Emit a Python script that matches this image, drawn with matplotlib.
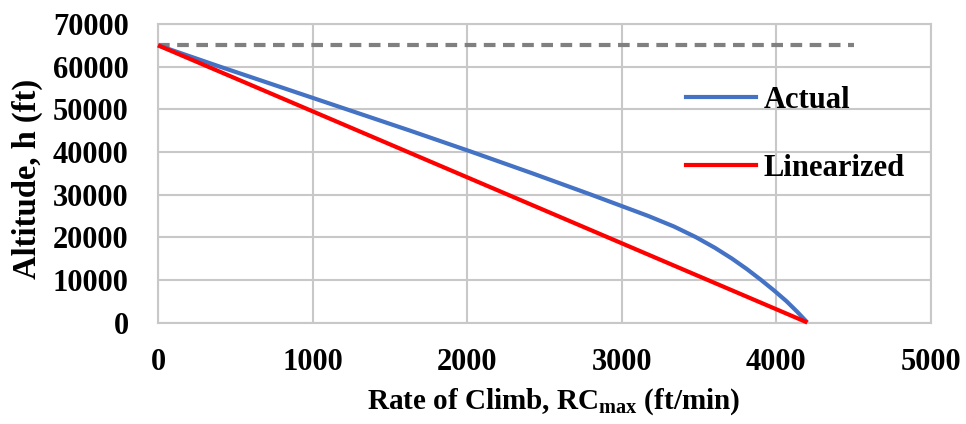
import matplotlib
matplotlib.use("Agg")
import matplotlib.pyplot as plt
from matplotlib.lines import Line2D

plt.rcParams['font.family'] = ['Liberation Serif', 'DejaVu Serif']
plt.rcParams['font.weight'] = 'bold'
plt.rcParams['mathtext.fontset'] = 'custom'
plt.rcParams['mathtext.rm'] = 'Liberation Serif:bold'
plt.rcParams['mathtext.bf'] = 'Liberation Serif:bold'
plt.rcParams['mathtext.it'] = 'Liberation Serif:bold'

# Actual maximum rate of climb versus altitude
h_actual = [0, 2500, 5000, 7500, 10000, 12500, 15000, 17500, 20000, 22500,
            25000, 27500, 30000, 35000, 40000, 45000, 50000, 55000, 60000, 65000]
rc_actual = [4200, 4135, 4065, 3985, 3900, 3810, 3712, 3603, 3480, 3338,
             3170, 2985, 2800, 2420, 2030, 1630, 1220, 810, 400, 0]

# Linear approximation between sea-level RC and absolute ceiling
rc_linear = [0, 4200]
h_linear = [65000, 0]

# Absolute ceiling reference
rc_ceiling = [0, 4500]
h_ceiling = [65000, 65000]

x_ticks = [0, 1000, 2000, 3000, 4000, 5000]
y_ticks = [0, 10000, 20000, 30000, 40000, 50000, 60000, 70000]

W, H = 966, 424
fig = plt.figure(figsize=(W / 100, H / 100), dpi=100)
ax = fig.add_axes([158 / W, 1 - 322.5 / H, 773 / W, 298.5 / H])

grid_c = '#c8c8c8'
ax.set_xlim(0, 5000)
ax.set_ylim(0, 70000)
ax.set_xticks(x_ticks)
ax.set_yticks(y_ticks)
ax.grid(True, color=grid_c, linewidth=1.5)
ax.set_axisbelow(True)
for s in ax.spines.values():
    s.set_color(grid_c)
    s.set_linewidth(1.5)
ax.tick_params(length=0, labelsize=22)
ax.tick_params(axis='y', pad=21)
ax.tick_params(axis='x', pad=18)

ax.plot(rc_ceiling, h_ceiling, color='#808080', linewidth=3,
        dashes=(2.8, 1.8), zorder=2)
ax.plot(rc_actual, h_actual, color='#4472C4', linewidth=3, zorder=3,
        clip_on=False, solid_capstyle='butt', solid_joinstyle='round')
ax.plot(rc_linear, h_linear, color='#FF0000', linewidth=3, zorder=4,
        clip_on=False, solid_capstyle='butt')

ax.set_xlabel(r'Rate of Climb, RC$_{\mathrm{max}}$ (ft/min)', fontsize=21,
              fontweight='bold', labelpad=7)
ax.xaxis.set_label_coords(0.512, -0.215)
ax.set_ylabel('Altitude, h (ft)', fontsize=23.5, fontweight='bold')
ax.yaxis.set_label_coords(-0.149, 0.48)

handles = [Line2D([], [], color='#4472C4', linewidth=3),
           Line2D([], [], color='#FF0000', linewidth=3)]
fig.legend(handles, ['Actual', 'Linearized'], loc='upper left',
           bbox_to_anchor=(686 / W, 1 - 86 / H), frameon=False,
           fontsize=22, handlelength=2.3, handletextpad=0.25,
           labelspacing=1.28, borderpad=0, borderaxespad=0)

fig.savefig('out.png', dpi=100)
